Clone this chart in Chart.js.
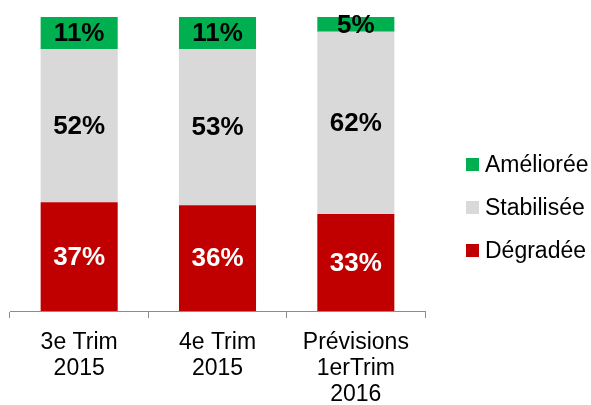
<!DOCTYPE html>
<html>
<head>
<meta charset="utf-8">
<script src="https://cdn.jsdelivr.net/npm/chart.js@4"></script>
<style>
    html, body { margin: 0; padding: 0; background: #fff; }
    #wrap { position: relative; width: 591px; height: 405px; }
    #legend { position: absolute; left: 466px; top: 143px; font-family: Arial, "Liberation Sans", sans-serif; font-size: 23px; color: #000; }
    .legend-item { display: flex; align-items: center; height: 43px; }
    .legend-box { width: 13px; height: 13px; margin-right: 6px; }
</style>
</head>
<body>
<div id="wrap">
    <canvas id="chart" width="591" height="405"></canvas>
    <div id="legend"></div>
</div>
<script>
const categories = [["3e Trim", "2015"], ["4e Trim", "2015"], ["Prévisions", "1erTrim", "2016"]];
const degradee = [37, 36, 33];
const stabilisee = [52, 53, 62];
const amelioree = [11, 11, 5];

const seriesNames = ["Dégradée", "Stabilisée", "Améliorée"];
const seriesColors = ["#C00000", "#D9D9D9", "#00B050"];
const labelColors = ["#FFFFFF", "#000000", "#000000"];

const valueLabels = {
    id: "valueLabels",
    afterDatasetsDraw(chart) {
        const ctx = chart.ctx;
        ctx.save();
        ctx.font = "bold 26px Arial, 'Liberation Sans', sans-serif";
        ctx.textAlign = "center";
        ctx.textBaseline = "middle";
        chart.data.datasets.forEach((ds, i) => {
            const meta = chart.getDatasetMeta(i);
            meta.data.forEach((bar, j) => {
                const mid = (bar.y + bar.base) / 2;
                ctx.fillStyle = labelColors[i];
                ctx.fillText(ds.data[j] + "%", bar.x, mid + 1);
            });
        });
        ctx.restore();
    }
};

new Chart(document.getElementById("chart"), {
    type: "bar",
    data: {
        labels: categories,
        datasets: [
            { label: seriesNames[0], data: degradee, backgroundColor: seriesColors[0] },
            { label: seriesNames[1], data: stabilisee, backgroundColor: seriesColors[1] },
            { label: seriesNames[2], data: amelioree, backgroundColor: seriesColors[2] }
        ]
    },
    options: {
        responsive: false,
        animation: false,
        layout: { padding: { top: 17, left: 10, right: 166, bottom: 0 } },
        datasets: { bar: { categoryPercentage: 1, barPercentage: 0.557 } },
        plugins: { legend: { display: false }, tooltip: { enabled: false } },
        scales: {
            x: {
                stacked: true,
                afterFit(scale) { scale.height = 94; },
                grid: { drawOnChartArea: false, color: "#8c8c8c", tickLength: 7, offset: true },
                border: { color: "#8c8c8c", width: 1 },
                ticks: {
                    color: "#000",
                    padding: 12,
                    font: { family: "Arial, 'Liberation Sans', sans-serif", size: 23, lineHeight: 1.12 },
                    maxRotation: 0,
                    autoSkip: false
                }
            },
            y: {
                stacked: true,
                display: false,
                min: 0,
                max: 100
            }
        }
    },
    plugins: [valueLabels]
});

const legend = document.getElementById("legend");
[2, 1, 0].forEach(i => {
    const item = document.createElement("div");
    item.className = "legend-item";
    item.innerHTML = `<span class="legend-box" style="background:${seriesColors[i]}"></span><span>${seriesNames[i]}</span>`;
    legend.appendChild(item);
});
</script>
</body>
</html>
